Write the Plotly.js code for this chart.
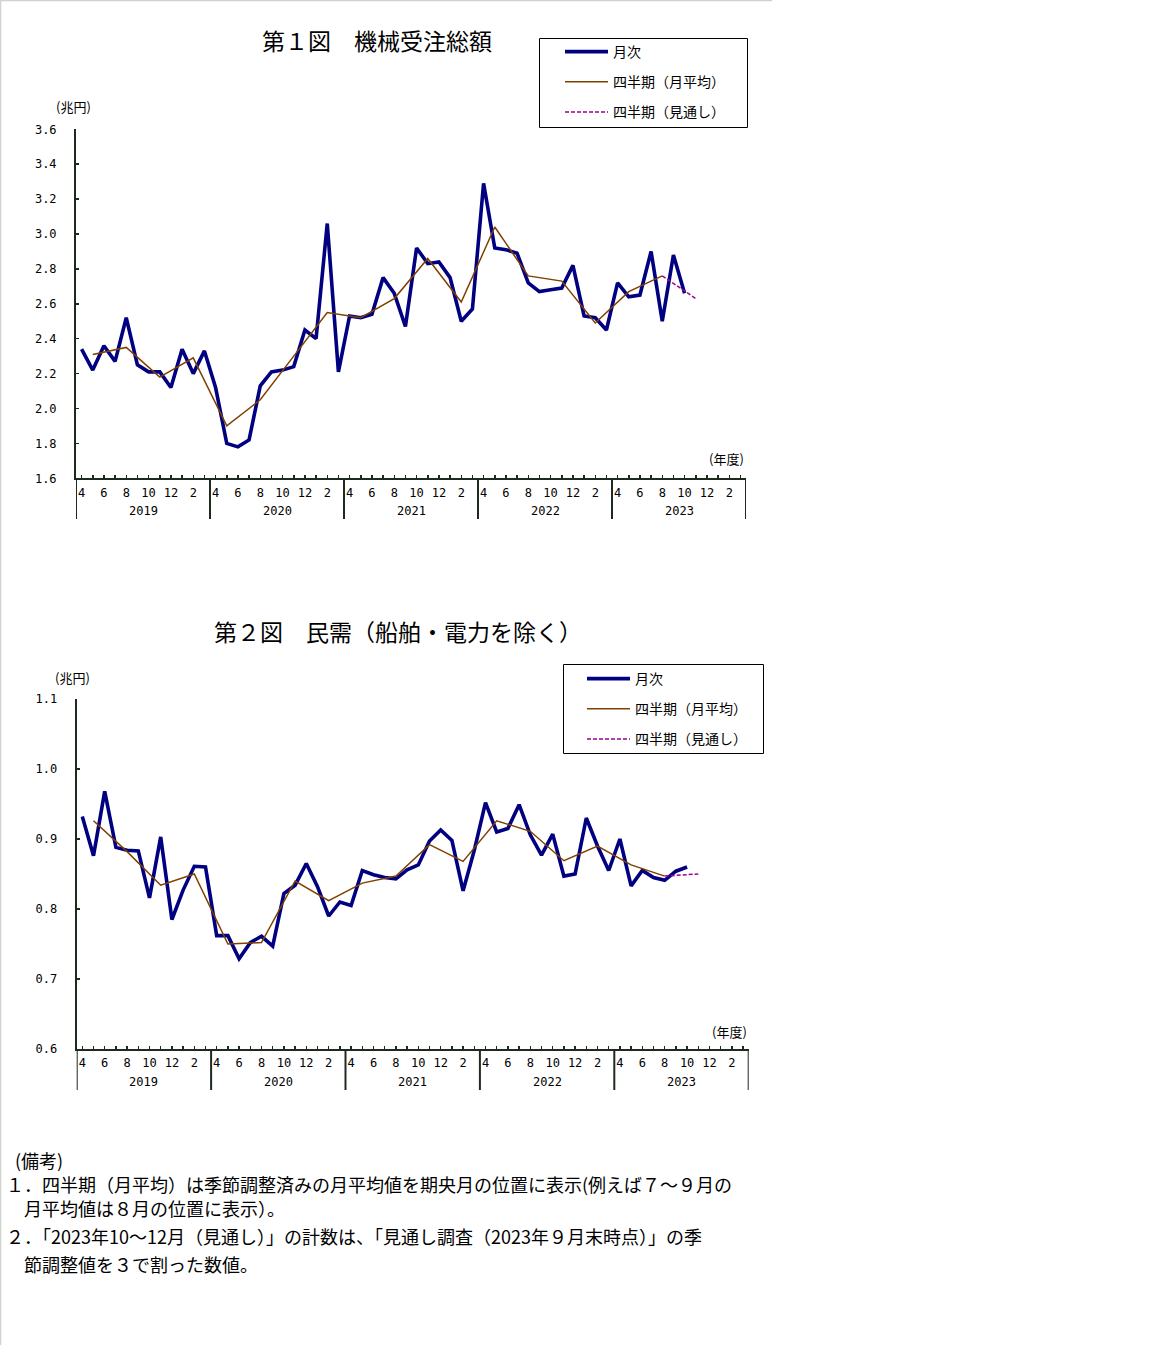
<!DOCTYPE html>
<html>
<head>
<meta charset="utf-8">
<script src="https://cdn.plot.ly/plotly-3.0.1.min.js"></script>
<style>
html,body{margin:0;padding:0;background:#fff;}
#chart{width:1152px;height:1345px;}
</style>
</head>
<body>
<div id="chart"></div>
<script>
// ---- data ----
const years = ["2019", "2020", "2021", "2022", "2023"];
const monthTickLabels = ["4", "", "6", "", "8", "", "10", "", "12", "", "2", ""];

// 第1図 機械受注総額 (兆円), monthly Apr 2019 - Oct 2023
const total_monthly = [
  2.34, 2.22, 2.36, 2.27, 2.52, 2.25, 2.21, 2.21, 2.12, 2.34, 2.20, 2.33,
  2.12, 1.80, 1.78, 1.82, 2.13, 2.21, 2.22, 2.24, 2.45, 2.40, 3.06, 2.21,
  2.53, 2.52, 2.54, 2.75, 2.66, 2.47, 2.92, 2.83, 2.84, 2.75, 2.50, 2.57,
  3.29, 2.92, 2.91, 2.89, 2.72, 2.67, 2.68, 2.69, 2.82, 2.53, 2.52, 2.45,
  2.72, 2.64, 2.65, 2.90, 2.50, 2.88, 2.66
];
// quarterly monthly average, plotted at mid month of each quarter
const total_quarterly = [
  2.31, 2.35, 2.18, 2.29, 1.90, 2.05, 2.30, 2.55, 2.52,
  2.63, 2.86, 2.61, 3.04, 2.76, 2.73, 2.49, 2.67, 2.76
];
const total_outlook = 2.63; // 2023 Oct-Dec outlook

// 第2図 民需（船舶・電力を除く） (兆円)
const private_monthly = [
  0.932, 0.876, 0.968, 0.888, 0.884, 0.883, 0.816, 0.903, 0.785, 0.827, 0.861, 0.860,
  0.762, 0.762, 0.729, 0.752, 0.761, 0.747, 0.822, 0.834, 0.865, 0.832, 0.790, 0.810,
  0.805, 0.855, 0.849, 0.845, 0.843, 0.856, 0.863, 0.897, 0.913, 0.898, 0.826, 0.884,
  0.952, 0.910, 0.915, 0.949, 0.906, 0.877, 0.907, 0.847, 0.850, 0.930, 0.890, 0.855,
  0.900, 0.833, 0.855, 0.845, 0.841, 0.854, 0.860
];
const private_quarterly = [
  0.926, 0.882, 0.834, 0.850, 0.750, 0.752, 0.840, 0.812, 0.837,
  0.847, 0.892, 0.868, 0.926, 0.911, 0.869, 0.890, 0.863, 0.847
];
const private_outlook = 0.850;

const seriesNames = ["月次", "四半期（月平均）", "四半期（見通し）"];

// ---- build ----
const W = 1152, H = 1345;
const PX = x => x / W;
const PY = y => 1 - y / H;

const nMonths = years.length * 12;
const monthIdx = total_monthly.map((_, i) => i);
const qIdx = total_quarterly.map((_, k) => 1 + 3 * k);
const lastQ = qIdx[qIdx.length - 1];

const tickvals = [], ticktext = [];
for (let i = 0; i < nMonths; i++) { tickvals.push(i); ticktext.push(monthTickLabels[i % 12]); }

const NUMFONT = "DejaVu Sans Mono, Liberation Mono, monospace";
const JPFONT = "Noto Sans CJK JP, Noto Sans, sans-serif";
const AXC = "#1e2a1e";
const NAVY = "#000080", BROWN = "#804000", PURPLE = "#990099";

function traces(monthly, quarterly, outlook, xa, ya, legendName) {
  return [
    {x: monthIdx.slice(0, monthly.length), y: monthly, xaxis: xa, yaxis: ya, type: "scatter", mode: "lines",
     line: {color: NAVY, width: 3.6}, name: seriesNames[0], legend: legendName, legendgroup: legendName + "a"},
    {x: quarterly.map((_, k) => 1 + 3 * k), y: quarterly, xaxis: xa, yaxis: ya, type: "scatter", mode: "lines",
     line: {color: BROWN, width: 1.5}, name: seriesNames[1], legend: legendName, legendgroup: legendName + "b"},
    {x: [lastQ, lastQ + 3], y: [quarterly[quarterly.length - 1], outlook], xaxis: xa, yaxis: ya, type: "scatter", mode: "lines",
     line: {color: PURPLE, width: 1.5, dash: "4px,2px"}, name: seriesNames[2], legend: legendName, legendgroup: legendName + "c"}
  ];
}

const data = [
  ...traces(total_monthly, total_quarterly, total_outlook, "x", "y", "legend"),
  ...traces(private_monthly, private_quarterly, private_outlook, "x2", "y2", "legend2")
];

function xaxisDef(x0, x1) {
  return {
    domain: [PX(x0), PX(x1)], range: [-0.5, nMonths - 0.5], anchor: null,
    showgrid: false, zeroline: false, showline: true, linecolor: AXC, linewidth: 2,
    tickmode: "array", tickvals: tickvals, ticktext: ticktext,
    ticks: "inside", ticklen: 3, tickwidth: 1.5, tickcolor: AXC,
    ticklabelstandoff: 2,
    tickfont: {family: NUMFONT, size: 12, color: "#000"}
  };
}
function yaxisDef(yTop, yBot, range, dtick) {
  return {
    domain: [PY(yBot), PY(yTop)], range: range,
    showgrid: false, zeroline: false, showline: true, linecolor: AXC, linewidth: 2,
    tickmode: "linear", tick0: range[0], dtick: dtick, tickformat: ".1f",
    ticks: "inside", ticklen: 3, tickwidth: 1.5, tickcolor: AXC,
    ticklabelstandoff: 15,
    tickfont: {family: NUMFONT, size: 12, color: "#000"}
  };
}

const x1a = xaxisDef(76, 746), y1a = yaxisDef(129.3, 478.3, [1.6, 3.6], 0.2);
const x2a = xaxisDef(76.7, 748.7), y2a = yaxisDef(699, 1049, [0.6, 1.1], 0.1);
x1a.anchor = "y"; y1a.anchor = "x";
x2a.anchor = "y2"; y2a.anchor = "x2";

const shapes = [];
const annotations = [];

// page border (light)
shapes.push({type: "line", xref: "paper", yref: "paper", x0: PX(0.5), x1: PX(0.5), y0: 0, y1: 1, line: {color: "#ccd4cc", width: 1.5}});
shapes.push({type: "line", xref: "paper", yref: "paper", x0: 0, x1: PX(772), y0: PY(0.5), y1: PY(0.5), line: {color: "#ccd4cc", width: 1.5}});

function yearSeps(xref, yAxisPx, bottomPx) {
  for (let k = 0; k <= years.length; k++) {
    shapes.push({type: "line", xref: xref, yref: "paper", x0: k * 12 - 0.5, x1: k * 12 - 0.5,
      y0: PY(yAxisPx), y1: PY(bottomPx), line: {color: AXC, width: 2}});
  }
  years.forEach((yr, k) => {
    annotations.push({xref: xref, yref: "paper", x: k * 12 + 5.5, y: PY(bottomPx - 8), text: yr,
      showarrow: false, font: {family: NUMFONT, size: 12, color: "#000"}, xanchor: "center", yanchor: "middle"});
  });
}
yearSeps("x", 478.3, 519);
yearSeps("x2", 1049, 1090);

// legend boxes
shapes.push({type: "rect", xref: "paper", yref: "paper", x0: PX(539.5), x1: PX(747.5), y0: PY(127.5), y1: PY(38.5), line: {color: "#000", width: 1}});
shapes.push({type: "rect", xref: "paper", yref: "paper", x0: PX(563.5), x1: PX(763.5), y0: PY(753.5), y1: PY(664.5), line: {color: "#000", width: 1}});

function txt(x, y, text, size, family, anchor) {
  annotations.push({xref: "paper", yref: "paper", x: PX(x), y: PY(y), text: text, showarrow: false,
    font: {family: family || JPFONT, size: size, color: "#000"}, xanchor: anchor || "center", yanchor: "middle"});
}
txt(377, 40, "第１図　機械受注総額", 23);
txt(398, 631, "第２図　民需（船舶・電力を除く）", 23);
txt(73, 107, "(兆円)", 13);
txt(72, 677, "(兆円)", 13);
txt(726, 459, "(年度)", 13);
txt(729, 1031, "(年度)", 13);

const notes = [
  [13, 1160, "(備考)"],
  [4, 1184, "１．四半期（月平均）は季節調整済みの月平均値を期央月の位置に表示(例えば７～９月の"],
  [22, 1208, "月平均値は８月の位置に表示）。"],
  [4, 1236, "２．「2023年10～12月（見通し）」の計数は、「見通し調査（2023年９月末時点）」の季"],
  [22, 1264, "節調整値を３で割った数値。"]
];
notes.forEach(n => txt(n[0], n[1], n[2], 18, JPFONT, "left"));

const legendCommon = {
  bgcolor: "rgba(0,0,0,0)", borderwidth: 0, font: {family: JPFONT, size: 14, color: "#000"},
  itemwidth: 43, tracegroupgap: 9, traceorder: "grouped", xanchor: "left", yanchor: "top", orientation: "v"
};

const layout = {
  width: W, height: H, margin: {l: 0, r: 0, t: 0, b: 0},
  paper_bgcolor: "#fff", plot_bgcolor: "rgba(0,0,0,0)",
  showlegend: true,
  xaxis: x1a, yaxis: y1a, xaxis2: x2a, yaxis2: y2a,
  legend: Object.assign({}, legendCommon, {x: PX(560), y: PY(36)}),
  legend2: Object.assign({}, legendCommon, {x: PX(582), y: PY(663)}),
  shapes: shapes, annotations: annotations
};

Plotly.newPlot("chart", data, layout, {displayModeBar: false, staticPlot: true});
</script>
</body>
</html>
